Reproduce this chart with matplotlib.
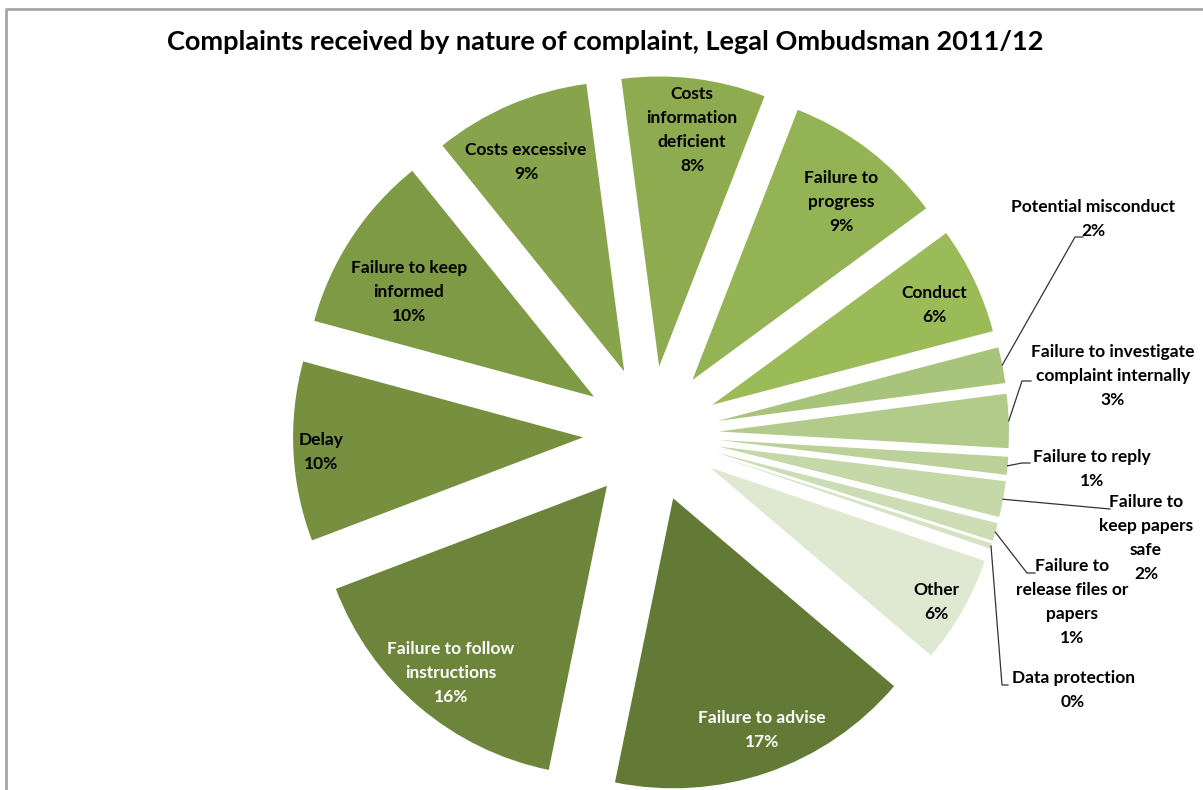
import numpy as np
import matplotlib.pyplot as plt

plt.rcParams['font.family'] = ['Lato', 'DejaVu Sans']

W, H = 1203, 790

# slices in clockwise order, starting just left of 12 o'clock
categories = ['Costs\ninformation\ndeficient', 'Failure to\nprogress', 'Conduct',
              'Potential misconduct', 'Failure to investigate\ncomplaint internally',
              'Failure to reply', 'Failure to\nkeep papers\nsafe',
              'Failure to\nrelease files or\npapers', 'Data protection', 'Other',
              'Failure to advise', 'Failure to follow\ninstructions', 'Delay',
              'Failure to keep\ninformed', 'Costs excessive']
shares = [8, 9, 6, 2, 3, 1, 2, 1, 0.3, 6, 17, 16, 10, 10, 8.7]
colors = ['#8eab50', '#93b355', '#9bbb59', '#a8c47a', '#b2cb8b', '#bbd199', '#c4d8a8',
          '#ccddb5', '#d5e3c2', '#dfe8d1', '#637a36', '#6c853a', '#77903f', '#7f9a45',
          '#87a34b']

# label centres in picture pixels (x, y from top)
label_xy = [(692, 130), (841, 202), (934, 305), (1093, 219), (1113, 376), (1092, 469),
            (1146, 538), (1072, 602), (1073, 690), (936, 602), (762, 730), (451, 673),
            (321, 452), (409, 292), (526, 162)]
text_colors = ['black'] * 10 + ['white', 'white', 'black', 'black', 'black']
# leader lines for outside labels: elbow point and end x
leaders = {3: (1075, 237, 1083), 4: (1022, 381, 1031), 5: (1022, 463, 1030),
           6: (1110, 509, 1110), 7: (1027, 573, 1035), 8: (1002, 685, 1008)}

fig = plt.figure(figsize=(W / 100, H / 100), dpi=100)
ax = fig.add_axes([0, 0, 1, 1])

cx, cy, r = 651, H - 434, 290
wedges, _ = ax.pie(shares, colors=colors, startangle=97.5, counterclock=False,
                   radius=r, center=(cx, cy), explode=[68] * len(shares),
                   wedgeprops=dict(linewidth=0))
ax.set_xlim(0, W)
ax.set_ylim(0, H)
ax.set_aspect('equal')
ax.axis('off')

total = sum(shares)
for i, w in enumerate(wedges):
    pct = round(shares[i] / total * 100)
    x, y = label_xy[i]
    ax.text(x, H - y, f'{categories[i]}\n{pct}%', ha='center', va='center',
            fontsize=12.5, fontweight='bold', color=text_colors[i], linespacing=1.64)
    if i in leaders:
        ang = np.deg2rad((w.theta1 + w.theta2) / 2)
        sx = w.center[0] + r * np.cos(ang)
        sy = w.center[1] + r * np.sin(ang)
        ex, ey, tx = leaders[i]
        ax.plot([sx, ex, tx], [sy, H - ey, H - ey], color='#333333', lw=0.9)

# chart border
ax.plot([6, 6, W + 5], [-5, H - 9, H - 9], color='#a6a6a6', lw=2, clip_on=False)

ax.text(605, H - 42, 'Complaints received by nature of complaint, Legal Ombudsman 2011/12',
        ha='center', va='center', fontsize=19.5, fontweight='bold')

fig.savefig('out.png', dpi=100)
